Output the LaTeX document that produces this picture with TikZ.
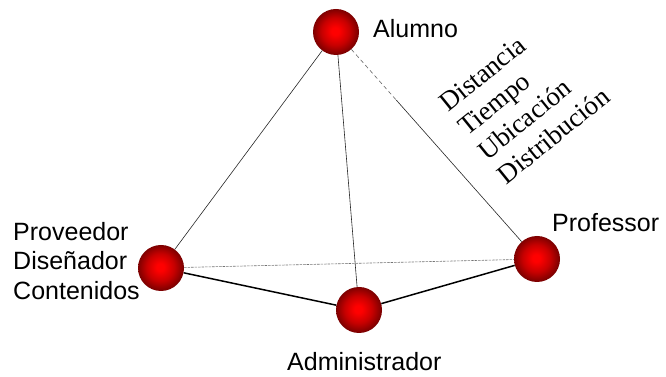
\documentclass[tikz,border=0pt]{standalone}
\usepackage{fontspec}
\setmainfont{Liberation Sans}
\newfontfamily\rotserif{Liberation Serif}
\usetikzlibrary{calc}
\pgfdeclareradialshading{redball}{\pgfpoint{-1bp}{1bp}}{%
  color(0bp)=(red); color(4bp)=(red); color(15bp)=(red!78!black);
  color(25bp)=(red!48!black); color(50bp)=(red!48!black)}
\tikzset{
  ball/.style={circle, minimum size=46pt, inner sep=0pt, shading=redball},
  lbl/.style={font=\fontsize{25}{30}\selectfont, inner sep=0pt, anchor=base west},
  rotlbl/.style={font=\rotserif\fontsize{27}{31}\selectfont, inner sep=0pt, anchor=base west, rotate=39},
  thinline/.style={line width=0.6pt, black!85},
  thickline/.style={line width=1.5pt, black},
  dotline/.style={line width=0.6pt, black!55, dash pattern=on 2.5pt off 1pt},
  dashline/.style={line width=0.6pt, black!60, dash pattern=on 4pt off 3pt}
}
\begin{document}
\begin{tikzpicture}[x=1pt,y=1pt]
\useasboundingbox (0,0) rectangle (666,377);
% balls
\node[ball] (alumno) at (336,345) {};
\node[ball] (prov) at (161,109) {};
\node[ball] (admin) at (359,67) {};
\node[ball] (prof) at (537,118) {};
% connectors
\coordinate (mid) at ($(alumno)!0.3!(prof)$);
\draw[thinline] (alumno) -- (prov);
\draw[thinline] (alumno) -- (admin);
\draw[dashline] (alumno) -- (mid);
\draw[thinline] (mid) -- (prof);
\draw[dotline] (prov) -- (prof);
\draw[thickline] (prov) -- (admin);
\draw[thickline] (admin) -- (prof);
% labels
\node[lbl] (talumno) at (373,339) {Alumno};
\node[lbl] (tprof) at (552,145) {Professor};
\node[lbl] (tadmin) at (287,6) {Administrador};
\node[lbl] (tprov1) at (13,136) {Proveedor};
\node[lbl] (tprov2) at (13,107) {Diseñador};
\node[lbl] (tprov3) at (13,77) {Contenidos};
\node[rotlbl] (r1) at (448,264) {Distancia};
\node[rotlbl] (r2) at (467.5,239.9) {Tiempo};
\node[rotlbl] (r3) at (487,215.8) {Ubicación};
\node[rotlbl] (r4) at (506.5,191.7) {Distribución};
\end{tikzpicture}
\end{document}
